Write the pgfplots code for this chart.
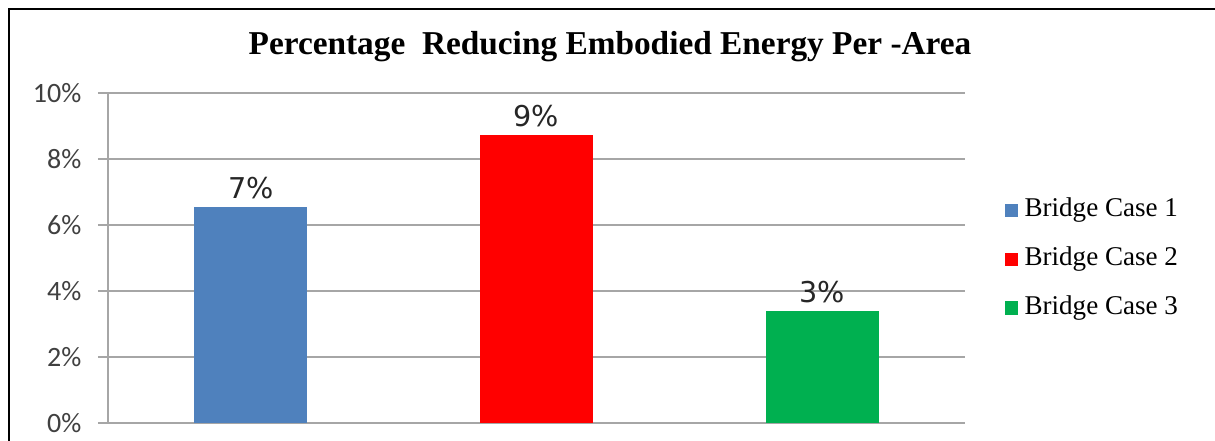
\documentclass[border=0pt]{standalone}
\usepackage{fontspec}
\setmainfont{Liberation Serif}
\newfontfamily\carlito{Carlito}
\newfontfamily\dejavu{DejaVu Sans}
\usepackage{pgfplots}
\pgfplotsset{compat=1.18}
\definecolor{cblue}{HTML}{4F81BD}
\definecolor{cred}{HTML}{FF0000}
\definecolor{cgreen}{HTML}{00B050}
\definecolor{gridgray}{HTML}{A6A6A6}
\definecolor{ticktext}{HTML}{404040}
\begin{document}
\begin{tikzpicture}
\path[use as bounding box] (0,0) rectangle (911.25pt,330.75pt);
\draw[line width=1.5pt] (6.4pt,-1pt) -- (6.4pt,324pt) -- (912pt,324pt);
\node[font=\bfseries\fontsize{25}{30}\selectfont] at (457.5pt,296pt) {Percentage\ \ Reducing Embodied Energy Per -Area};
\begin{axis}[
  at={(81pt,13.5pt)}, anchor=south west,
  scale only axis, width=642.75pt, height=247.5pt,
  xmin=-0.5, xmax=2.5, ymin=0, ymax=10,
  ybar, bar width=84.75pt, bar shift=0pt,
  xtick=\empty,
  ytick={0,2,4,6,8,10},
  yticklabels={0\%,2\%,4\%,6\%,8\%,10\%},
  yticklabel style={font=\carlito\fontsize{21}{25}\selectfont, text=ticktext, xshift=-9pt},
  axis x line*=bottom, axis y line*=left,
  axis line style={gridgray, line width=1.1pt, -},
  tick align=outside, major tick length=7.5pt,
  tick style={gridgray, line width=1.1pt},
  ymajorgrids, grid style={gridgray, line width=1.1pt},
  nodes near coords={\pgfmathprintnumber[fixed,precision=0,assume math mode=true]{\pgfplotspointmeta}\%},
  nodes near coords style={font=\dejavu\fontsize{21.5}{25}\selectfont, text=black!85, inner sep=2pt, yshift=4pt},
  legend cell align=left,
  legend image code/.code={\fill[#1, draw=none] (0pt,-4.9pt) rectangle (9.75pt,4.9pt); \path (12.5pt,0pt);},
  legend style={draw=none, at={(1,0.5)}, anchor=west, xshift=30pt, yshift=-1pt,
    font=\fontsize{20.3}{24}\selectfont, row sep=14pt, inner sep=0pt,
    nodes={inner sep=2pt, text height=14pt, text depth=4.5pt}},
]
\addplot[fill=cblue, draw=none] coordinates {(0,6.55)};
\addplot[fill=cred, draw=none] coordinates {(1,8.73)};
\addplot[fill=cgreen, draw=none] coordinates {(2,3.39)};
\legend{Bridge Case 1, Bridge Case 2, Bridge Case 3}
\end{axis}
\end{tikzpicture}
\end{document}
